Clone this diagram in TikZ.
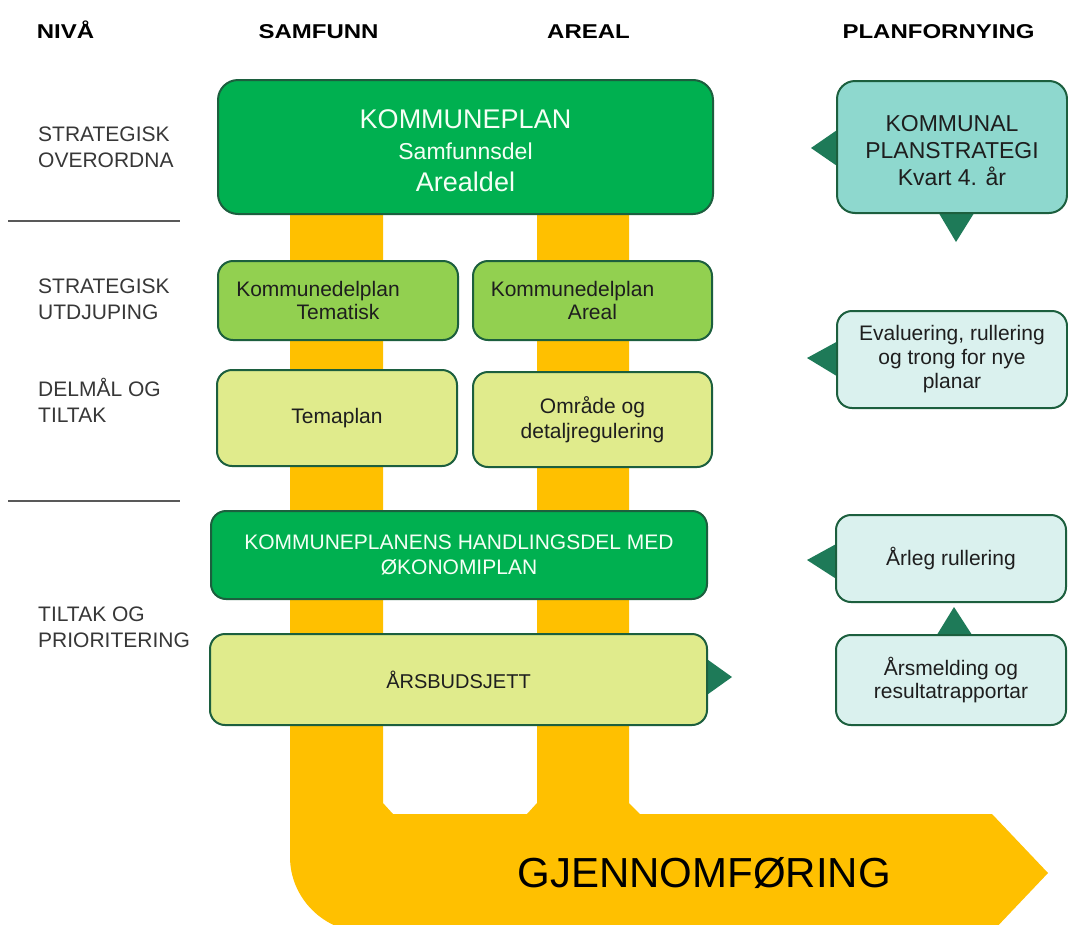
\documentclass[tikz,border=0pt]{standalone}
\usepackage{fontspec}
\setmainfont{Liberation Sans}
\newfontfamily\hdrfont{Liberation Sans}[FakeStretch=1.2]
\usetikzlibrary{calc}
\definecolor{dkgreen}{RGB}{0,176,80}
\definecolor{midgreen}{RGB}{146,208,80}
\definecolor{ltyellow}{RGB}{224,235,140}
\definecolor{kpsfill}{RGB}{142,216,206}
\definecolor{ltteal}{RGB}{218,241,238}
\definecolor{edge}{RGB}{28,95,62}
\definecolor{tri}{RGB}{30,122,88}
\definecolor{barcol}{RGB}{255,192,0}
\definecolor{txt}{RGB}{30,30,30}
\definecolor{lbltxt}{RGB}{55,55,55}
\definecolor{wtxt}{RGB}{245,255,245}
\begin{document}
\begin{tikzpicture}[x=1pt,y=-1pt,
  box/.style={draw=edge, line width=2pt, rounded corners=15pt, align=center, inner sep=0pt, text=txt,
    font=\fontsize{21}{24}\selectfont},
  bigbox/.style={box, rounded corners=20pt},
  hdr/.style={anchor=base, inner sep=0pt, text=black, font=\hdrfont\bfseries\fontsize{20}{24}\selectfont},
  lbl/.style={anchor=base west, align=left, inner sep=0pt, text=lbltxt, font=\fontsize{21}{26}\selectfont},
  rule/.style={draw=black!65, line width=1.6pt},
  tri/.style={fill=tri}]
\useasboundingbox (0,0) rectangle (1068,924);
\fill[white] (0,0) rectangle (1068,924);

% yellow flow shape
\begin{scope}
\clip (0,0) rectangle (1068,924);
\fill[barcol] (290,200) -- (290,857) .. controls (290,898) and (324,932) .. (365,932)
  -- (992,932) -- (1048,873) -- (992,814) -- (640,814) -- (629,803) -- (629,200)
  -- (537,200) -- (537,803) -- (527,814) -- (393,814) -- (383,803) -- (383,200) -- cycle;
\end{scope}

% headers
\node[hdr] (hniva) at (65.5,38) {NIVÅ};
\node[hdr] (hsam) at (318.5,38) {SAMFUNN};
\node[hdr] (hareal) at (588.5,38) {AREAL};
\node[hdr] (hplan) at (938.5,38) {PLANFORNYING};

% level labels (base = baseline of the last line)
\node[lbl] (l1) at (38,167) {STRATEGISK\\OVERORDNA};
\node[lbl] (l2) at (38,319) {STRATEGISK\\UTDJUPING};
\node[lbl] (l3) at (38,422) {DELMÅL OG\\TILTAK};
\node[lbl] (l4) at (38,647) {TILTAK OG\\PRIORITERING};
\draw[rule] (8,221) -- (180,221);
\draw[rule] (8,501) -- (180,501);

% anchor points for the pointer triangles
\coordinate (kpsW) at (837,147);
\coordinate (kpsS) at (952,213);
\coordinate (evalW) at (837,359.5);
\coordinate (arlegW) at (835,558.5);
\coordinate (arsmN) at (951,635);
\coordinate (budsjE) at (707,679.5);

% triangles
\fill[tri] ($(kpsW)+(3,-19)$) -- ($(kpsW)+(-26,1)$) -- ($(kpsW)+(3,21)$) -- cycle;
\fill[tri] ($(kpsS)+(-15,-3)$) -- ($(kpsS)+(4,29)$) -- ($(kpsS)+(24,-3)$) -- cycle;
\fill[tri] ($(evalW)+(3,-19.5)$) -- ($(evalW)+(-30,-1.5)$) -- ($(evalW)+(3,18.5)$) -- cycle;
\fill[tri] ($(arlegW)+(3,-15.5)$) -- ($(arlegW)+(-28,1.5)$) -- ($(arlegW)+(3,21.5)$) -- cycle;
\fill[tri] ($(arsmN)+(-16,3)$) -- ($(arsmN)+(3,-28)$) -- ($(arsmN)+(23,3)$) -- cycle;
\fill[tri] ($(budsjE)+(-3,-22.5)$) -- ($(budsjE)+(25,-2.5)$) -- ($(budsjE)+(-3,17.5)$) -- cycle;

\node[bigbox, fill=dkgreen, text=wtxt, minimum width=495pt, minimum height=134pt,
  font=\fontsize{27}{31.5}\selectfont] (kp) at (465.5,147)
  {\rule{0pt}{25.5pt}KOMMUNEPLAN\\{\fontsize{23}{31.5}\selectfont Samfunnsdel}\\Arealdel};

\node[box, fill=midgreen, minimum width=240pt, minimum height=79pt,
  font=\fontsize{21}{23}\selectfont] (kdt) at (338,300.5)
  {Kommunedelplan\hspace*{40pt}\\Tematisk};
\node[box, fill=midgreen, minimum width=239pt, minimum height=79pt,
  font=\fontsize{21}{23}\selectfont] (kda) at (592.5,300.5)
  {Kommunedelplan\hspace*{40pt}\\Areal};

\node[box, fill=ltyellow, minimum width=240pt, minimum height=96pt] (tema) at (337,418) {Temaplan};
\node[box, fill=ltyellow, minimum width=239pt, minimum height=95pt,
  font=\fontsize{21}{25}\selectfont] (omr) at (592.5,419.5) {Område og\\detaljregulering};

\node[box, fill=dkgreen, text=wtxt, minimum width=496pt, minimum height=88pt,
  font=\fontsize{21}{25}\selectfont] (hand) at (459,555)
  {KOMMUNEPLANENS HANDLINGSDEL MED\\ØKONOMIPLAN};

\node[box, fill=ltyellow, minimum width=497pt, minimum height=91pt,
  font=\fontsize{20}{24}\selectfont] (budsj) at (458.5,679.5) {ÅRSBUDSJETT};

\node[box, rounded corners=18pt, fill=kpsfill, minimum width=230pt, minimum height=132pt,
  font=\fontsize{23}{27}\selectfont] (kps) at (952,147)
  {\rule{0pt}{22.5pt}KOMMUNAL\\PLANSTRATEGI\\Kvart 4. år};
\node[box, fill=ltteal, minimum width=230pt, minimum height=97pt,
  font=\fontsize{21}{24}\selectfont] (eval) at (952,359.5)
  {Evaluering, rullering\\og trong for nye\\planar};
\node[box, fill=ltteal, minimum width=230pt, minimum height=87pt] (arleg) at (951,558.5) {Årleg rullering};
\node[box, fill=ltteal, minimum width=230pt, minimum height=90pt,
  font=\fontsize{21}{23}\selectfont] (arsm) at (951,680) {Årsmelding og\\resultatrapportar};

% arrow label
\node[inner sep=0pt, text=black, font=\fontsize{42}{46}\selectfont] (gj) at (704,873) {GJENNOMFØRING};
\end{tikzpicture}
\end{document}
